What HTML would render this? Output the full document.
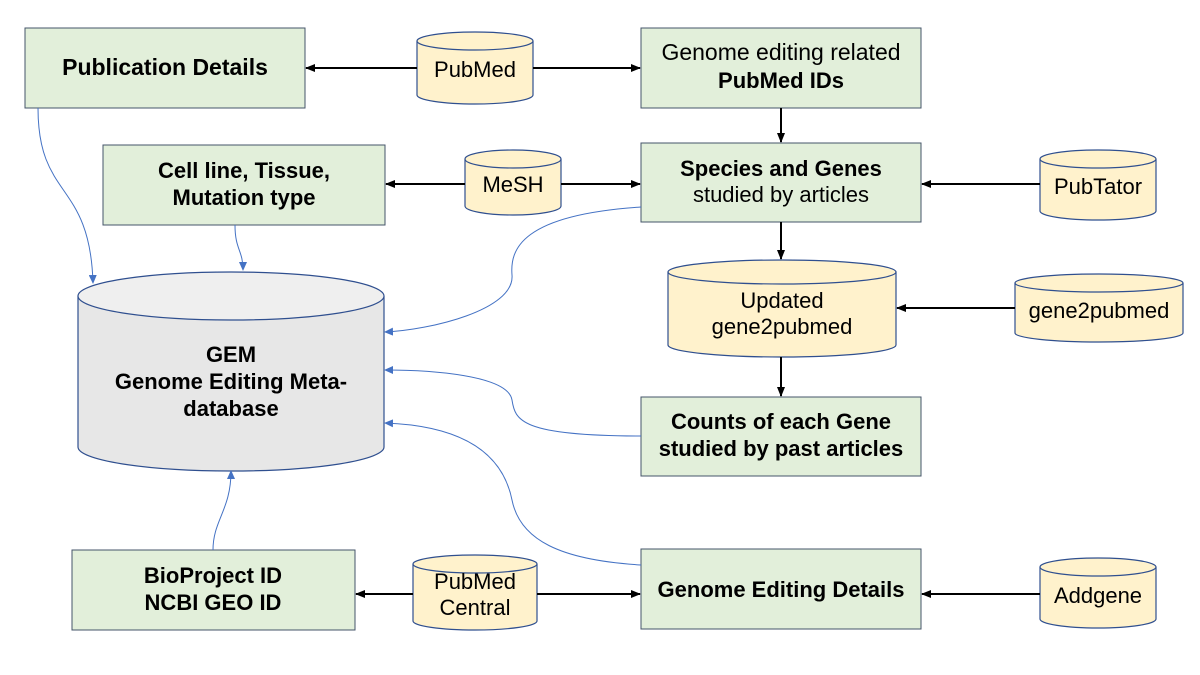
<!DOCTYPE html>
<html><head><meta charset="utf-8"><style>body{margin:0;background:#fff}svg{display:block}text{font-family:"Liberation Sans","Noto Sans CJK JP",sans-serif;fill:#000}</style></head><body>
<svg width="1200" height="675" viewBox="0 0 1200 675">
<defs>
<marker id="ab" markerWidth="10" markerHeight="8" refX="9" refY="4" orient="auto" markerUnits="userSpaceOnUse"><path d="M0,0 L10,4 L0,8z" fill="#000"/></marker>
<marker id="au" markerWidth="9" markerHeight="8" refX="8" refY="4" orient="auto" markerUnits="userSpaceOnUse"><path d="M0,0 L9,4 L0,8z" fill="#4472C4"/></marker>
</defs>
<g fill="#E2EFDA" stroke="#44546A" stroke-width="1">
<rect x="25" y="28" width="280" height="80"/>
<rect x="641" y="28" width="280" height="80"/>
<rect x="103" y="145" width="282" height="80"/>
<rect x="641" y="143" width="280" height="79"/>
<rect x="641" y="397" width="280" height="79"/>
<rect x="72" y="550" width="283" height="80"/>
<rect x="641" y="549" width="280" height="80"/>
</g>
<g stroke="#2F4F8F" stroke-width="1.2">
<path d="M417,41 V95 A58,9 0 0 0 533,95 V41" fill="#FFF2CC"/><ellipse cx="475" cy="41" rx="58" ry="9" fill="#FFF2CC"/>
<path d="M465,159 V206 A48,9 0 0 0 561,206 V159" fill="#FFF2CC"/><ellipse cx="513" cy="159" rx="48" ry="9" fill="#FFF2CC"/>
<path d="M1040,159 V211 A58,9 0 0 0 1156,211 V159" fill="#FFF2CC"/><ellipse cx="1098" cy="159" rx="58" ry="9" fill="#FFF2CC"/>
<path d="M668,272 V345 A114,12 0 0 0 896,345 V272" fill="#FFF2CC"/><ellipse cx="782" cy="272" rx="114" ry="12" fill="#FFF2CC"/>
<path d="M1015,283 V333 A84,9 0 0 0 1183,333 V283" fill="#FFF2CC"/><ellipse cx="1099" cy="283" rx="84" ry="9" fill="#FFF2CC"/>
<path d="M413,564 V621 A62,9 0 0 0 537,621 V564" fill="#FFF2CC"/><ellipse cx="475" cy="564" rx="62" ry="9" fill="#FFF2CC"/>
<path d="M1040,567 V619 A58,9 0 0 0 1156,619 V567" fill="#FFF2CC"/><ellipse cx="1098" cy="567" rx="58" ry="9" fill="#FFF2CC"/>
<path d="M78,296 V447 A153,24 0 0 0 384,447 V296" fill="#E7E7E7"/><ellipse cx="231" cy="296" rx="153" ry="24" fill="#EFEFEF"/>
</g>
<g stroke="#000" stroke-width="2" marker-end="url(#ab)">
<line x1="417" y1="68" x2="306" y2="68"/><line x1="533" y1="68" x2="640" y2="68"/>
<line x1="781" y1="108" x2="781" y2="142"/>
<line x1="465" y1="184" x2="386" y2="184"/><line x1="561" y1="184" x2="640" y2="184"/>
<line x1="1040" y1="184" x2="922" y2="184"/>
<line x1="781" y1="222" x2="781" y2="259"/>
<line x1="1015" y1="308" x2="897" y2="308"/>
<line x1="781" y1="357" x2="781" y2="396"/>
<line x1="413" y1="594" x2="356" y2="594"/><line x1="537" y1="594" x2="640" y2="594"/>
<line x1="1040" y1="594" x2="922" y2="594"/>
</g>
<g stroke="#4472C4" stroke-width="1" fill="none" marker-end="url(#au)">
<path d="M38,108 C38,200 90,180 93,283"/>
<path d="M235,225 C235,250 243,250 243,270"/>
<path d="M641,207 C520,215 510,250 512,275 C515,310 430,330 385,332"/>
<path d="M641,436 C520,436 515,420 512,400 C508,375 430,370 385,370"/>
<path d="M641,565 C560,560 520,540 512,500 C500,440 440,425 385,423"/>
<path d="M213,550 C213,520 231,510 231,471"/>
</g>
<g font-size="22" text-anchor="middle">
<text x="165" y="75" font-weight="bold" font-size="23">Publication Details</text>
<text x="781" y="60" font-size="23">Genome editing related</text>
<text x="781" y="88" font-weight="bold">PubMed IDs</text>
<text x="244" y="178" font-weight="bold">Cell line, Tissue,</text>
<text x="244" y="205" font-weight="bold">Mutation type</text>
<text x="781" y="176" font-weight="bold">Species and Genes</text>
<text x="781" y="202">studied by articles</text>
<text x="781" y="429" font-weight="bold">Counts of each Gene</text>
<text x="781" y="456" font-weight="bold">studied by past articles</text>
<text x="213" y="583" font-weight="bold">BioProject ID</text>
<text x="213" y="610" font-weight="bold">NCBI GEO ID</text>
<text x="781" y="597" font-weight="bold">Genome Editing Details</text>
<text x="475" y="77">PubMed</text>
<text x="513" y="192">MeSH</text>
<text x="1098" y="194">PubTator</text>
<text x="782" y="308">Updated</text>
<text x="782" y="334">gene2pubmed</text>
<text x="1099" y="318">gene2pubmed</text>
<text x="475" y="589">PubMed</text>
<text x="475" y="615">Central</text>
<text x="1098" y="603">Addgene</text>
<text x="231" y="362" font-weight="bold">GEM</text>
<text x="231" y="389" font-weight="bold">Genome Editing Meta-</text>
<text x="231" y="416" font-weight="bold">database</text>
</g>
</svg>
</body></html>
